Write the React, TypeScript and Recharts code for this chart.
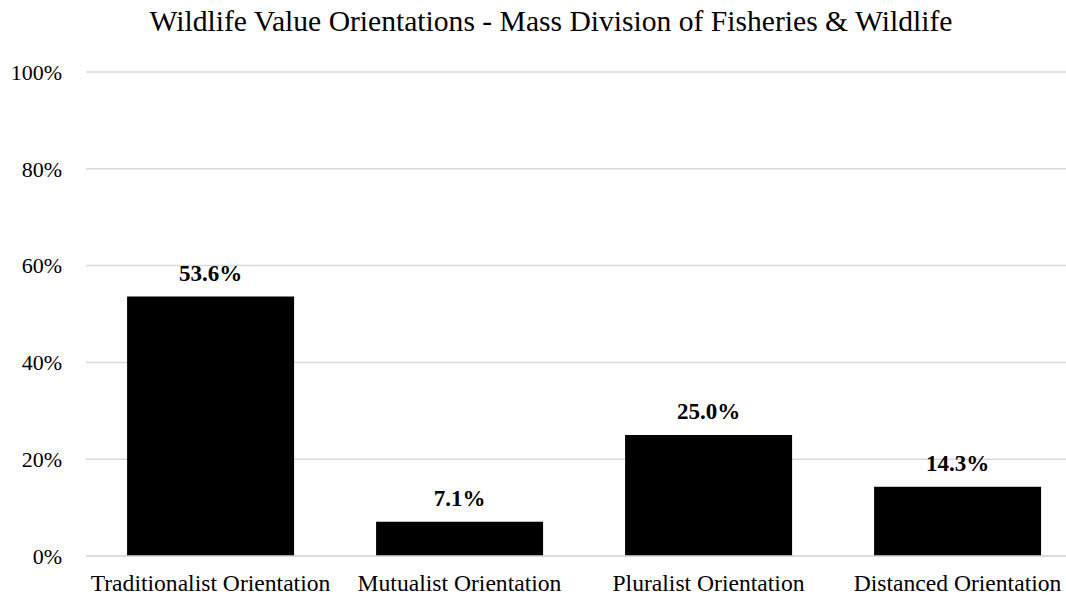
import {Bar, BarChart, CartesianGrid, LabelList, XAxis, YAxis} from "recharts";

const categories = [
    "Traditionalist Orientation",
    "Mutualist Orientation",
    "Pluralist Orientation",
    "Distanced Orientation",
];
const shares = [0.536, 0.071, 0.25, 0.143];
const yTicks = [0, 0.2, 0.4, 0.6, 0.8, 1];

const data = categories.map((name, i) => ({name, share: shares[i]}));

const font = "'Liberation Serif', 'Times New Roman', serif";

const App = (): React.JSX.Element => {
    return (
        <div style={{position: "fixed", left: 0, top: 0, width: 1066, height: 596, overflow: "hidden", background: "#fff"}}>
            <div style={{
                position: "absolute", left: 0, top: 7, width: 1102, textAlign: "center",
                fontFamily: font, fontSize: 29.6, lineHeight: "29px", color: "#000", whiteSpace: "nowrap"
            }}>
                Wildlife Value Orientations - Mass Division of Fisheries &amp; Wildlife
            </div>
            <BarChart data={data} width={1100} height={596} barCategoryGap="16.5%"
                      margin={{top: 72, right: 18, bottom: 0, left: 0}}>
                <CartesianGrid vertical={false} stroke="#d9d9d9" strokeWidth={1.5}/>
                <XAxis dataKey="name" height={40} tickLine={false} axisLine={{stroke: "#d9d9d9", strokeWidth: 1.5}}
                       tickMargin={12} interval={0}
                       tick={{fontSize: 23.6, fill: "#000", fontFamily: font}}/>
                <YAxis width={86} domain={[0, 1]} ticks={yTicks} axisLine={false} tickLine={false}
                       tickMargin={18} tickFormatter={(v: number) => `${Math.round(v * 100)}%`}
                       tick={{fontSize: 22, fill: "#000", fontFamily: font}}/>
                <Bar dataKey="share" fill="#000" isAnimationActive={false}>
                    <LabelList dataKey="share" position="top" offset={16}
                               formatter={(v: number) => `${(v * 100).toFixed(1)}%`}
                               style={{fontSize: 23, fontWeight: "bold", fill: "#000", fontFamily: font}}/>
                </Bar>
            </BarChart>
        </div>
    );
};

export default App;
